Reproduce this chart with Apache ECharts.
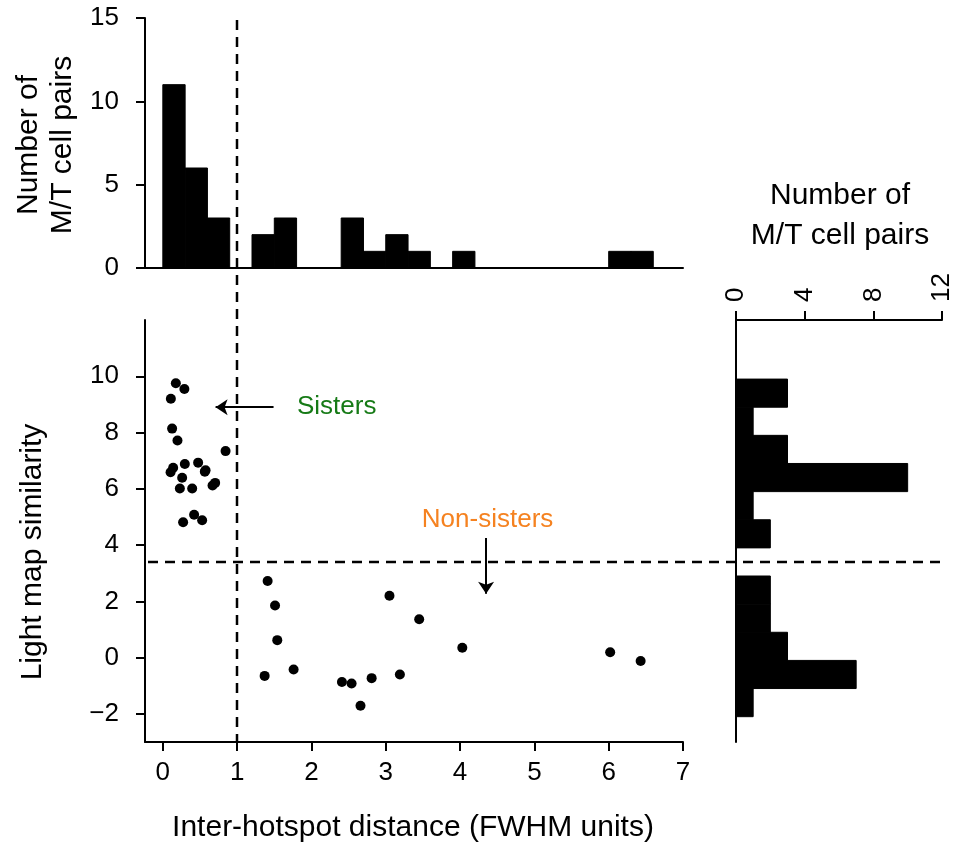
<!DOCTYPE html>
<html>
<head>
<meta charset="utf-8">
<script src="https://cdn.jsdelivr.net/npm/echarts@6/dist/echarts.min.js"></script>
<style>
  html, body { margin: 0; padding: 0; background: #fff; }
  #chart { width: 956px; height: 852px; }
</style>
</head>
<body>
<div id="chart"></div>
<script>
// Inter-hotspot distance (FWHM units) of each M/T cell pair
const distance = [
  0.175, 0.29, 0.108, 0.125, 0.197, 0.844, 0.296, 0.475, 0.565, 0.575,
  0.139, 0.104, 0.26, 0.229, 0.395, 0.669, 0.704, 0.273, 0.421, 0.529,
  1.41, 1.51, 1.54, 1.37, 1.76, 2.41, 2.54, 2.66, 2.81, 3.05,
  3.19, 3.45, 4.03, 6.02, 6.43
];
// Light map similarity of the same pairs
const similarity = [
  9.75, 9.55, 9.2, 8.14, 7.72, 7.34, 6.88, 6.93, 6.61, 6.66,
  6.75, 6.59, 6.39, 6.01, 6.01, 6.12, 6.21, 4.81, 5.08, 4.88,
  2.72, 1.85, 0.62, -0.65, -0.42, -0.87, -0.92, -1.71, -0.73, 2.2,
  -0.6, 1.36, 0.35, 0.19, -0.12
];

// Marginal histogram of distance (bin edges and counts)
const distEdges = [0, 0.3, 0.6, 0.9, 1.2, 1.5, 1.8, 2.1, 2.4, 2.7, 3.0, 3.3,
  3.6, 3.9, 4.2, 4.5, 4.8, 5.1, 5.4, 5.7, 6.0, 6.3, 6.6];
const distCounts = [11, 6, 3, 0, 2, 3, 0, 0, 3, 1, 2, 1, 0, 1, 0, 0, 0, 0, 0, 0, 1, 1];

// Marginal histogram of similarity (bin edges and counts)
const simEdges = [-2.1, -1.1, -0.1, 0.9, 1.9, 2.9, 3.9, 4.9, 5.9, 6.9, 7.9, 8.9, 9.9];
const simCounts = [1, 7, 3, 2, 2, 0, 2, 1, 10, 3, 1, 3];

// Tick values
const distTicks = [0, 1, 2, 3, 4, 5, 6, 7];
const simTicks = [-2, 0, 2, 4, 6, 8, 10];

// Thresholds separating sisters from non-sisters
const distCut = 1;
const simCut = 3.4;

// Annotation arrows [x0, y0, x1, y1] and labels [x, y]
const sistersArrow = [1.49, 8.9, 0.71, 8.9];
const sistersLabel = [2.34, 8.9];
const nonSistersArrow = [4.35, 4.25, 4.35, 2.27];
const nonSistersLabel = [4.37, 4.88];

const FONT = '"Liberation Sans", Arial, Helvetica, sans-serif';
const BLACK = '#000';
const line2 = { color: BLACK, width: 2 };
const tickFont = { color: BLACK, fontSize: 26, fontFamily: FONT };

const chart = echarts.init(document.getElementById('chart'), null, { renderer: 'canvas' });

const points = distance.map((d, i) => [d, similarity[i]]);
const distBins = distCounts.map((c, i) => [distEdges[i], distEdges[i + 1], c]);
const simBins = simCounts.map((c, i) => [simEdges[i], simEdges[i + 1], c]);

const X_MIN = -0.24;

// Solid histogram bar; a thin outline of the same colour closes seams between bins
const barStyle = { fill: BLACK, stroke: BLACK, lineWidth: 1 };

chart.setOption({
  animation: false,
  backgroundColor: '#fff',
  grid: [
    { left: 145, right: 273, top: 320, bottom: 110 },   // scatter
    { left: 145, right: 273, top: 18, bottom: 584 },    // distance histogram
    { left: 736, right: 14, top: 320, bottom: 110 }     // similarity histogram
  ],
  xAxis: [
    {
      type: 'value', gridIndex: 0, min: X_MIN, max: 7,
      axisLine: { show: true, onZero: false, lineStyle: line2 },
      axisTick: { show: true, length: 9, lineStyle: line2, customValues: distTicks },
      axisLabel: Object.assign({ margin: 18, customValues: distTicks }, tickFont),
      splitLine: { show: false }
    },
    {
      type: 'value', gridIndex: 1, min: X_MIN, max: 7,
      axisLine: { show: true, onZero: false, lineStyle: line2 },
      axisTick: { show: false },
      axisLabel: { show: false },
      splitLine: { show: false }
    },
    {
      type: 'value', gridIndex: 2, position: 'top', min: 0, max: 12, interval: 4,
      axisLine: { show: true, onZero: false, lineStyle: line2 },
      axisTick: { show: true, length: 9, lineStyle: line2 },
      axisLabel: Object.assign({ margin: 18, rotate: -90 }, tickFont),
      splitLine: { show: false }
    }
  ],
  yAxis: [
    {
      type: 'value', gridIndex: 0, min: -3, max: 12,
      axisLine: { show: true, onZero: false, lineStyle: line2 },
      axisTick: { show: true, length: 9, lineStyle: line2, customValues: simTicks },
      axisLabel: Object.assign({
        margin: 26, customValues: simTicks,
        formatter: v => String(v).replace('-', '\u2212')
      }, tickFont),
      splitLine: { show: false }
    },
    {
      type: 'value', gridIndex: 1, min: 0, max: 15, interval: 5,
      axisLine: { show: true, onZero: false, lineStyle: line2 },
      axisTick: { show: true, length: 9, lineStyle: line2 },
      axisLabel: Object.assign({ margin: 26 }, tickFont),
      splitLine: { show: false }
    },
    {
      type: 'value', gridIndex: 2, min: -3, max: 12,
      axisLine: { show: true, onZero: false, lineStyle: line2 },
      axisTick: { show: false },
      axisLabel: { show: false },
      splitLine: { show: false }
    }
  ],
  series: [
    {
      type: 'scatter', xAxisIndex: 0, yAxisIndex: 0,
      data: points, symbol: 'circle', symbolSize: 10,
      itemStyle: { color: BLACK, opacity: 1 },
      markLine: {
        silent: true, animation: false,
        symbol: ['none', 'arrow'], symbolSize: 12,
        lineStyle: { color: BLACK, width: 2, type: 'solid' },
        label: { show: false },
        data: [
          [{ coord: [sistersArrow[0], sistersArrow[1]] }, { coord: [sistersArrow[2], sistersArrow[3]] }],
          [{ coord: [nonSistersArrow[0], nonSistersArrow[1]] }, { coord: [nonSistersArrow[2], nonSistersArrow[3]] }]
        ]
      }
    },
    {
      type: 'custom', xAxisIndex: 1, yAxisIndex: 1,
      data: distBins, encode: { x: [0, 1], y: 2 },
      renderItem: (params, api) => {
        const c = api.value(2);
        if (!c) return null;
        const p0 = api.coord([api.value(0), 0]);
        const p1 = api.coord([api.value(1), c]);
        return {
          type: 'rect',
          shape: { x: p0[0], y: p1[1], width: p1[0] - p0[0], height: p0[1] - p1[1] },
          style: barStyle
        };
      }
    },
    {
      type: 'custom', xAxisIndex: 2, yAxisIndex: 2,
      data: simBins, encode: { x: 2, y: [0, 1] },
      renderItem: (params, api) => {
        const c = api.value(2);
        if (!c) return null;
        const p0 = api.coord([0, api.value(0)]);
        const p1 = api.coord([c, api.value(1)]);
        return {
          type: 'rect',
          shape: { x: p0[0], y: p1[1], width: p1[0] - p0[0], height: p0[1] - p1[1] },
          style: barStyle
        };
      }
    }
  ]
});

// Threshold lines crossing panels, annotation labels and axis titles
const px = (axis, v) => chart.convertToPixel(axis, v);
const vx = Math.round(px({ xAxisIndex: 0 }, distCut));
const vTop = px({ yAxisIndex: 1 }, 15) + 2;
const vBot = px({ yAxisIndex: 0 }, -3);
const hy = Math.round(px({ yAxisIndex: 0 }, simCut));
const hL = px({ xAxisIndex: 0 }, X_MIN) + 3;
const hR = px({ xAxisIndex: 2 }, 12) + 3;
const dash = { stroke: BLACK, lineWidth: 2.5, lineDash: [10, 7] };
const titleFont = 'normal 30px ' + FONT;
const noteFont = 'normal 26px ' + FONT;

chart.setOption({
  graphic: [
    { type: 'line', silent: true, z: 10, shape: { x1: vx, y1: vTop, x2: vx, y2: vBot }, style: dash },
    { type: 'line', silent: true, z: 10, shape: { x1: hL, y1: hy, x2: hR, y2: hy }, style: dash },
    {
      type: 'text', silent: true,
      x: px({ xAxisIndex: 0 }, sistersLabel[0]), y: px({ yAxisIndex: 0 }, sistersLabel[1]),
      style: { text: 'Sisters', font: noteFont, fill: '#167a16', textAlign: 'center', textVerticalAlign: 'middle' }
    },
    {
      type: 'text', silent: true,
      x: px({ xAxisIndex: 0 }, nonSistersLabel[0]), y: px({ yAxisIndex: 0 }, nonSistersLabel[1]),
      style: { text: 'Non-sisters', font: noteFont, fill: '#f58220', textAlign: 'center', textVerticalAlign: 'middle' }
    },
    {
      type: 'text', silent: true, x: 413, y: 828,
      style: { text: 'Inter-hotspot distance (FWHM units)', font: titleFont, fill: BLACK, textAlign: 'center', textVerticalAlign: 'middle' }
    },
    {
      type: 'text', silent: true, x: 33, y: 552, rotation: Math.PI / 2,
      style: { text: 'Light map similarity', font: titleFont, fill: BLACK, textAlign: 'center', textVerticalAlign: 'middle' }
    },
    {
      type: 'text', silent: true, x: 46, y: 145, rotation: Math.PI / 2,
      style: { text: 'Number of\nM/T cell pairs', font: titleFont, lineHeight: 34, fill: BLACK, textAlign: 'center', textVerticalAlign: 'middle' }
    },
    {
      type: 'text', silent: true, x: 840, y: 216,
      style: { text: 'Number of\nM/T cell pairs', font: titleFont, lineHeight: 40, fill: BLACK, textAlign: 'center', textVerticalAlign: 'middle' }
    }
  ]
});
</script>
</body>
</html>
